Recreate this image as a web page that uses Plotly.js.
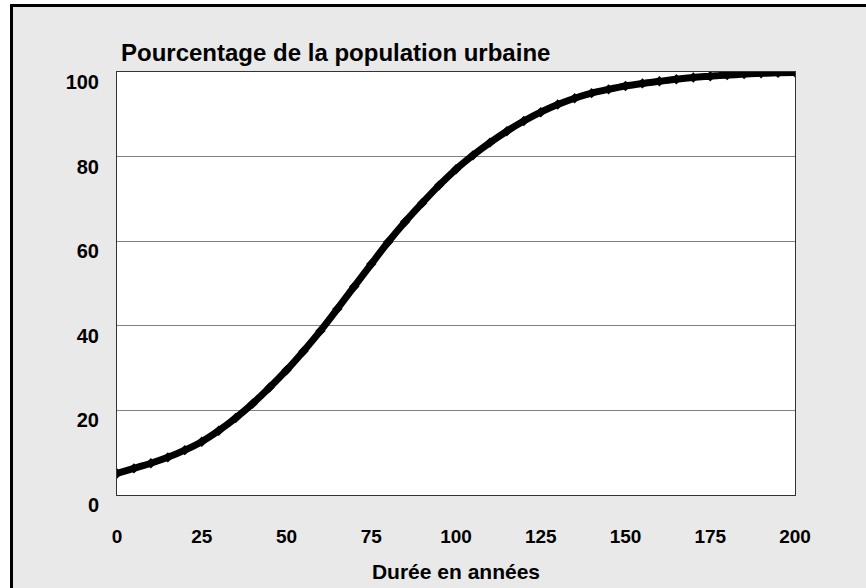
<!DOCTYPE html>
<html>
<head>
<meta charset="utf-8">
<script src="https://cdn.plot.ly/plotly-3.0.1.min.js"></script>
<style>
  html, body { margin: 0; padding: 0; background: #ffffff; width: 866px; height: 588px; overflow: hidden; }
  #frame { position: absolute; left: 10px; top: 4px; width: 900px; height: 640px;
           border-top: 3px solid #000; border-left: 3px solid #000; background: #e9e9e9; }
  #chart { position: absolute; left: 0; top: 0; width: 866px; height: 588px; }
</style>
</head>
<body>
<div id="frame"></div>
<div id="chart"></div>
<script>
// Years (x) and urban population percentage (y)
const annees = [0, 5, 10, 15, 20, 25, 30, 35, 40, 45, 50, 55, 60, 65, 70, 75, 80, 85, 90, 95,
                100, 105, 110, 115, 120, 125, 130, 135, 140, 145, 150, 155, 160, 165, 170, 175,
                180, 185, 190, 195, 200];
const pourcentage = [5.1, 6.3, 7.5, 8.9, 10.6, 12.6, 15.2, 18.2, 21.6, 25.4, 29.5, 34.0, 38.8,
                     44.0, 49.3, 54.6, 59.8, 64.6, 69.0, 73.2, 77.0, 80.3, 83.3, 86.0, 88.4,
                     90.5, 92.3, 93.8, 95.0, 95.9, 96.7, 97.3, 97.8, 98.3, 98.7, 99.0, 99.3,
                     99.5, 99.7, 99.8, 99.9];
const xTicks = [0, 25, 50, 75, 100, 125, 150, 175, 200];
const yTicks = [0, 20, 40, 60, 80, 100];
const titreGraphique = "Pourcentage de la population urbaine";
const titreX = "Durée en années";

const fontFam = "Liberation Sans, Arial, sans-serif";

const trace = {
  x: annees,
  y: pourcentage,
  type: "scatter",
  mode: "lines+markers",
  line: { color: "#000000", width: 7, shape: "spline" },
  marker: { symbol: "diamond", size: 8, color: "#000000" },
  hoverinfo: "x+y",
  showlegend: false
};

const layout = {
  width: 866,
  height: 588,
  margin: { l: 117, r: 71, t: 72, b: 93 },
  paper_bgcolor: "rgba(0,0,0,0)",
  plot_bgcolor: "#ffffff",
  title: {
    text: "<b>" + titreGraphique + "</b>",
    x: 121 / 866, xref: "container", xanchor: "left",
    y: 1 - 53 / 588, yref: "container", yanchor: "middle",
    font: { family: fontFam, size: 24, color: "#000000" }
  },
  xaxis: {
    range: [0, 200],
    tickvals: xTicks,
    ticktext: xTicks.map(v => "<b>" + v + "</b>"),
    ticks: "",
    showgrid: false,
    zeroline: false,
    showline: true,
    mirror: true,
    linecolor: "#333333",
    linewidth: 1,
    ticklabelstandoff: 24,
    tickfont: { family: fontFam, size: 19, color: "#000000" },
    title: {
      text: "<b>" + titreX + "</b>",
      standoff: 18,
      font: { family: fontFam, size: 21, color: "#000000" }
    },
    automargin: false,
    fixedrange: true
  },
  yaxis: {
    range: [0, 100],
    tickvals: yTicks,
    ticktext: yTicks.map(v => "<b>" + v + "</b>"),
    ticks: "",
    showgrid: true,
    gridcolor: "#808080",
    gridwidth: 1,
    zeroline: false,
    showline: true,
    mirror: true,
    linecolor: "#333333",
    linewidth: 1,
    ticklabelshift: 10,
    ticklabelstandoff: 13,
    tickfont: { family: fontFam, size: 20, color: "#000000" },
    automargin: false,
    fixedrange: true
  },
  hovermode: "closest"
};

Plotly.newPlot("chart", [trace], layout, { displayModeBar: false, staticPlot: false });
</script>
</body>
</html>
